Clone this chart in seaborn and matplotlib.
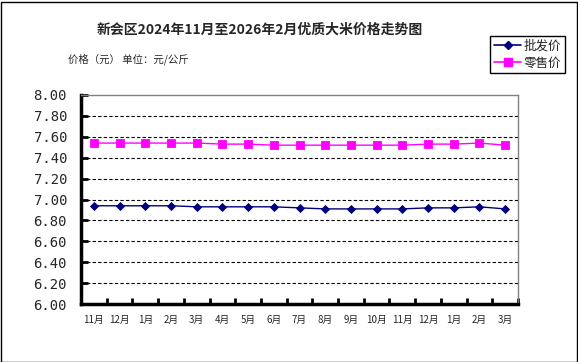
import matplotlib
matplotlib.use("Agg")
import matplotlib.pyplot as plt
from matplotlib.ticker import FixedLocator
from matplotlib.lines import Line2D
import seaborn as sns
import pandas as pd
import numpy as np

months = ["11月", "12月", "1月", "2月", "3月", "4月", "5月", "6月", "7月", "8月",
          "9月", "10月", "11月", "12月", "1月", "2月", "3月"]
wholesale = [6.94, 6.94, 6.94, 6.94, 6.93, 6.93, 6.93, 6.93, 6.92, 6.91,
             6.91, 6.91, 6.91, 6.92, 6.92, 6.93, 6.91]
retail = [7.54, 7.54, 7.54, 7.54, 7.54, 7.53, 7.53, 7.52, 7.52, 7.52,
          7.52, 7.52, 7.52, 7.53, 7.53, 7.54, 7.52]
series_names = ["批发价", "零售价"]
yticks = [6.00, 6.20, 6.40, 6.60, 6.80, 7.00, 7.20, 7.40, 7.60, 7.80, 8.00]

sns.set_theme(style="white")
plt.rcParams['font.family'] = ['Noto Sans CJK SC', 'DejaVu Sans']

idx = np.arange(len(months))
df = pd.DataFrame({
    "x": np.concatenate([idx, idx]),
    "price": wholesale + retail,
    "series": [series_names[0]] * len(months) + [series_names[1]] * len(months),
})

fig = plt.figure(figsize=(5.78, 3.62), dpi=100)
fig.patch.set_facecolor("white")
ax = fig.add_axes([81 / 578, 1 - 304 / 362, (518 - 81) / 578, (304 - 95) / 362])

palette = {series_names[0]: "#000080", series_names[1]: "#FF00FF"}
markers = {series_names[0]: "D", series_names[1]: "s"}
msize = {series_names[0]: 4.5, series_names[1]: 5.5}
sns.lineplot(data=df, x="x", y="price", hue="series", style="series",
             palette=palette, markers=markers, dashes=False, ax=ax,
             linewidth=1.0, markersize=5, markeredgewidth=0.6, legend=False)
for ln, name in zip(ax.lines, series_names):
    ln.set_markeredgecolor(palette[name])
    ln.set_markersize(msize[name])

ax.set_xlim(-0.5, len(months) - 0.5)
ax.set_ylim(6.0, 8.0)
ax.set_xlabel("")
ax.set_ylabel("")

ax.set_yticks(yticks)
ax.set_yticklabels([f"{v:.2f}" for v in yticks], family="DejaVu Sans Mono", fontsize=10)
ax.tick_params(axis="y", direction="in", length=5, width=2, color="black", pad=10, left=True)

ax.set_xticks(idx)
ax.set_xticklabels(months, fontsize=7)
ax.tick_params(axis="x", which="major", length=0, pad=8, bottom=True)
ax.xaxis.set_minor_locator(FixedLocator(np.arange(-0.5, len(months), 1.0)))
ax.tick_params(axis="x", which="minor", direction="in", length=4, width=2, color="black", bottom=True)

for y in yticks[1:-1]:
    ax.axhline(y, color="black", linestyle=(0, (3, 2)), linewidth=0.8, zorder=0)

ax.spines["left"].set_linewidth(2.5)
ax.spines["left"].set_color("black")
ax.spines["bottom"].set_linewidth(2.5)
ax.spines["bottom"].set_color("black")
ax.spines["top"].set_linewidth(1.0)
ax.spines["top"].set_color("#808080")
ax.spines["right"].set_linewidth(1.0)
ax.spines["right"].set_color("#808080")
for s in ax.spines.values():
    s.set_visible(True)

fig.text(260 / 578, 1 - 30 / 362, "新会区2024年11月至2026年2月优质大米价格走势图",
         ha="center", va="center", fontsize=10, fontweight="bold")
fig.text(68 / 578, 1 - 59 / 362, "价格（元） 单位：元/公斤", ha="left", va="center", fontsize=7.5)

handles = [Line2D([], [], color=palette[n], marker=markers[n], markersize=msize[n],
                  linewidth=1.2) for n in series_names]
leg = fig.legend(handles, series_names, loc="upper left",
                 bbox_to_anchor=(490 / 578, 1 - 36 / 362), fontsize=9,
                 frameon=True, fancybox=False, edgecolor="black", framealpha=1,
                 handlelength=2.2, handletextpad=0.2, borderpad=0.3, labelspacing=0.3,
                 borderaxespad=0)
leg.get_frame().set_linewidth(1.0)

border = plt.Rectangle((0.5 / 578, 0.5 / 362), 576 / 578, 360 / 362, transform=fig.transFigure,
                       fill=False, edgecolor="black", linewidth=1.0)
fig.add_artist(border)

fig.savefig("out.png", dpi=100)
